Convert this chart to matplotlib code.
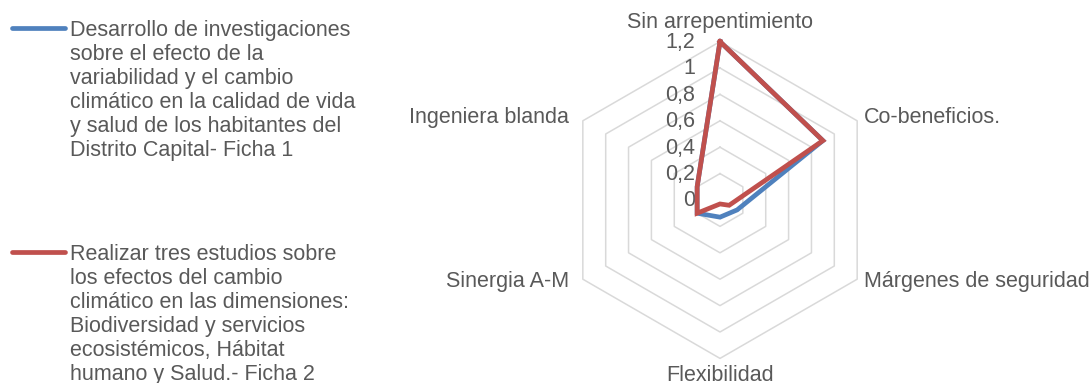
import numpy as np
import matplotlib
matplotlib.use("Agg")
import matplotlib.pyplot as plt
from matplotlib.lines import Line2D

plt.rcParams["font.family"] = ["Liberation Sans", "DejaVu Sans"]

# ejes del radar, en sentido horario desde arriba
categorias = ["Sin arrepentimiento", "Co-beneficios.", "Márgenes de seguridad",
              "Flexibilidad", "Sinergia A-M", "Ingeniera blanda"]
ficha1 = [1.2, 0.9, 0.15, 0.13, 0.2, 0.2]
ficha2 = [1.2, 0.9, 0.08, 0.03, 0.2, 0.2]
niveles = [0, 0.2, 0.4, 0.6, 0.8, 1.0, 1.2]
niveles_txt = ["0", "0,2", "0,4", "0,6", "0,8", "1", "1,2"]

serie1 = ("Desarrollo de investigaciones\nsobre el efecto de la\n"
          "variabilidad y el cambio\nclimático en la calidad de vida\n"
          "y salud de los habitantes del\nDistrito Capital- Ficha 1")
serie2 = ("Realizar tres estudios sobre\nlos efectos del cambio\n"
          "climático en las dimensiones:\nBiodiversidad y servicios\n"
          "ecosistémicos, Hábitat\nhumano y Salud.- Ficha 2")

AZUL = "#4F81BD"
ROJO = "#C0504D"
GRIS = "#D9D9D9"
TEXTO = "#595959"
FS = 15.5

W, H = 1089, 383
fig = plt.figure(figsize=(W / 100, H / 100), dpi=100)
cx, cy, rad = 720, 200, 158.4
ax = fig.add_axes([(cx - rad) / W, (H - cy - rad) / H, 2 * rad / W, 2 * rad / H],
                  projection="polar")
ax.set_theta_zero_location("N")
ax.set_theta_direction(-1)
ax.set_ylim(0, niveles[-1])
ax.axis("off")

ang = np.linspace(0, 2 * np.pi, len(categorias), endpoint=False)
ang_c = np.append(ang, ang[0])

# anillos hexagonales
for n in niveles[1:]:
    ax.plot(ang_c, [n] * len(ang_c), color=GRIS, lw=1.1, clip_on=False, zorder=1)

for vals, col in [(ficha1, AZUL), (ficha2, ROJO)]:
    ax.plot(ang_c, vals + vals[:1], color=col, lw=3.4, clip_on=False, zorder=3,
            solid_joinstyle="miter")

# etiquetas de la escala sobre el eje vertical
for n, t in zip(niveles, niveles_txt):
    ax.annotate(t, xy=(0, n), xytext=(-25, -1), textcoords="offset pixels",
                ha="right", va="center", fontsize=FS, color=TEXTO, zorder=2)

# etiquetas de categoria
offs = [((0, 14), "center", "baseline"),
        ((7, 3), "left", "center"),
        ((7, -2), "left", "center"),
        ((0, -7), "center", "top"),
        ((-14, -2), "right", "center"),
        ((-14, 3), "right", "center")]
for a, cat, (xy, ha, va) in zip(ang, categorias, offs):
    ax.annotate(cat, xy=(a, niveles[-1]), xytext=xy, textcoords="offset pixels",
                ha=ha, va=va, fontsize=FS, color=TEXTO, annotation_clip=False)

# leyenda a la izquierda
for txt, col, y in [(serie1, AZUL, 28), (serie2, ROJO, 252)]:
    fig.add_artist(Line2D([12 / W, 65 / W], [1 - y / H, 1 - y / H],
                          color=col, lw=3.4, solid_capstyle="round"))
    fig.text(70 / W, 1 - (y - 8) / H, txt, ha="left", va="top",
             fontsize=FS, color=TEXTO, linespacing=1.19)

fig.savefig("out.png", dpi=100)
